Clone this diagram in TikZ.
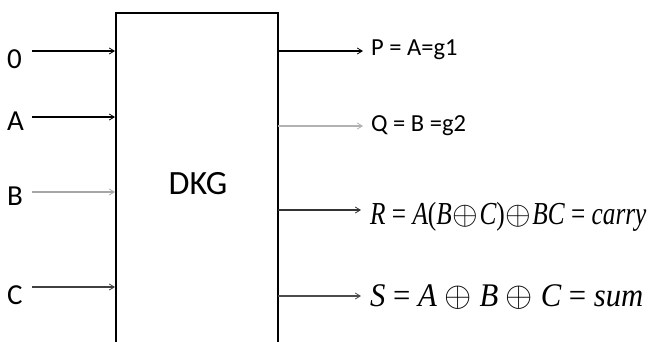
\RequirePackage{fix-cm}
\documentclass[tikz,border=0pt]{standalone}
\usepackage{fontspec}
\setmainfont{Carlito}
\newfontfamily\tnrR[FakeStretch=0.79]{Liberation Serif}
\newfontfamily\tnrS[FakeStretch=0.93]{Liberation Serif}
\newcommand\oxR{\hspace{1pt}{\fontsize{33}{33}\selectfont$\oplus$}\hspace{1pt}}
\newcommand\oxS{{\fontsize{35}{35}\selectfont$\oplus$}}
\usetikzlibrary{arrows.meta}
\begin{document}
\begin{tikzpicture}[x=1pt,y=-1pt,
  inlab/.style={font=\fontsize{29}{32}\selectfont, inner sep=0pt, anchor=base west},
  outlab/.style={font=\fontsize{24.5}{28}\selectfont, anchor=base west, inner sep=0pt},
  mathR/.style={font=\tnrR\itshape\fontsize{32}{36}\selectfont, anchor=base west, inner sep=0pt},
  mathS/.style={font=\tnrS\itshape\fontsize{33}{36}\selectfont, anchor=base west, inner sep=0pt},
  wire/.style={line width=1.1pt, -{Straight Barb[length=5pt,width=6pt,line width=0.8pt]}},
  blk/.style={draw, line width=2pt, minimum width=162pt, minimum height=345pt, inner sep=0pt}]
\useasboundingbox (0,0) rectangle (650,341);
\clip (0,0) rectangle (650,341);
\fill[white] (0,0) rectangle (650,341);
\node[blk] (dkg) at (197,185.5) {};
\node[font=\fontsize{34}{38}\selectfont] (dkgt) at (198,184) {DKG};
% inputs
\node[inlab] (l0) at (7,68) {0};
\node[inlab] (lA) at (7,130) {A};
\node[inlab] (lB) at (7,205) {B};
\node[inlab] (lC) at (7,304) {C};
\coordinate (i0) at (32,51);
\coordinate (iA) at (32,117);
\coordinate (iB) at (32,192);
\coordinate (iC) at (32,287);
\draw[wire] (i0) -- (i0 -| dkg.west);
\draw[wire] (iA) -- (iA -| dkg.west);
\draw[wire, gray!70] (iB) -- (iB -| dkg.west);
\draw[wire, black!75] (iC) -- (iC -| dkg.west);
% outputs
\coordinate (o1) at (278,51);
\coordinate (o2) at (278,126);
\coordinate (o3) at (278,210);
\coordinate (o4) at (278,296);
\node[outlab] (P) at (371,55) {P = A=g1};
\node[outlab] (Q) at (371,131) {Q = B =g2};
\node[mathR] (R) at (370,224) {R {\upshape=} A{\upshape(}B\oxR{}C{\upshape)}\oxR{}BC {\upshape=} carry};
\node[mathS] (S) at (370,306) {S {\upshape=} A \oxS{} B \oxS{} C {\upshape=} sum};
\draw[wire] (o1) -- ([xshift=-8pt]P.west |- o1);
\draw[wire, gray!60] (o2) -- ([xshift=-8pt]Q.west |- o2);
\draw[wire, black!80] (o3) -- ([xshift=-9pt]R.west |- o3);
\draw[wire, black!70] (o4) -- ([xshift=-9pt]S.west |- o4);
\end{tikzpicture}
\end{document}
